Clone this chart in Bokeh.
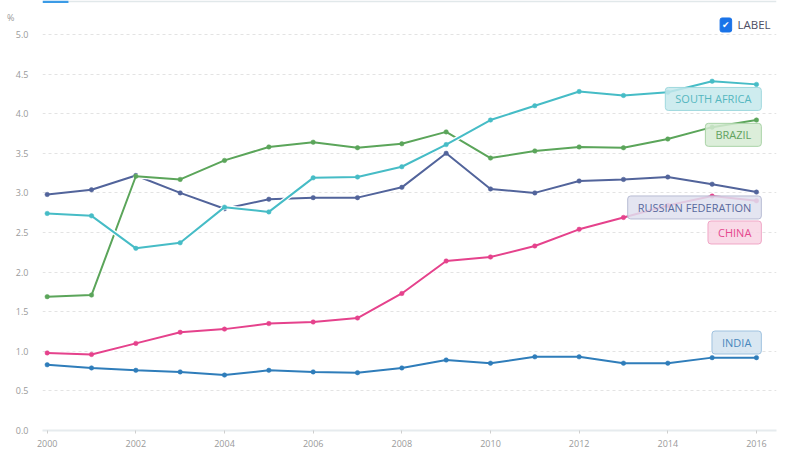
from bokeh.plotting import figure
from bokeh.models import Range1d, FixedTicker, PrintfTickFormatter, Label, BoxAnnotation
from bokeh.embed import file_html
from bokeh.resources import INLINE

years = list(range(2000, 2017))

india = [0.83, 0.79, 0.76, 0.74, 0.70, 0.76, 0.74, 0.73, 0.79, 0.89, 0.85, 0.93, 0.93, 0.85, 0.85, 0.92, 0.92]
china = [0.98, 0.96, 1.10, 1.24, 1.28, 1.35, 1.37, 1.42, 1.73, 2.14, 2.19, 2.33, 2.54, 2.69, 2.84, 2.96, 2.90]
russia = [2.98, 3.04, 3.22, 3.00, 2.80, 2.92, 2.94, 2.94, 3.07, 3.50, 3.05, 3.00, 3.15, 3.17, 3.20, 3.11, 3.01]
brazil = [1.69, 1.71, 3.21, 3.17, 3.41, 3.58, 3.64, 3.57, 3.62, 3.77, 3.44, 3.53, 3.58, 3.57, 3.68, 3.83, 3.92]
south_africa = [2.74, 2.71, 2.30, 2.37, 2.82, 2.76, 3.19, 3.20, 3.33, 3.61, 3.92, 4.10, 4.28, 4.23, 4.27, 4.41, 4.37]

series_names = ["INDIA", "CHINA", "RUSSIAN FEDERATION", "BRAZIL", "SOUTH AFRICA"]
series_values = [india, china, russia, brazil, south_africa]
series_colors = ["#2f7dba", "#e5428c", "#52649b", "#5ba55a", "#46bcc6"]
label_fills = ["#d2e3f0", "#f8d3e3", "#dfe1ee", "#d6ebd4", "#c5e9ec"]
label_borders = ["#9fc2df", "#f0a6c6", "#b7bcd4", "#a9d3a6", "#9fd8de"]
label_text_colors = ["#4a88bd", "#e5498f", "#5a6a9e", "#62a260", "#55b7bf"]
label_y = [1.111, 2.50, 2.816, 3.733, 4.186]

y_ticks = [0.0, 0.5, 1.0, 1.5, 2.0, 2.5, 3.0, 3.5, 4.0, 4.5, 5.0]
x_ticks = [2000, 2002, 2004, 2006, 2008, 2010, 2012, 2014, 2016]
unit_label = "%"
unit_y = 5.21

FONT = "Open Sans"
Y_TOP = 5.429

p = figure(width=778, height=467, output_backend="svg", toolbar_location=None,
           x_range=Range1d(1999.894, 2016.452), y_range=Range1d(0, Y_TOP),
           min_border_left=42, min_border_right=2, min_border_top=0, min_border_bottom=37)
p.outline_line_color = None
p.background_fill_color = "white"
p.border_fill_color = "white"

# top tab strip (decoration)
p.add_layout(BoxAnnotation(bottom=Y_TOP - 0.022, top=Y_TOP, left=2000.48,
                           fill_color="#e1e8ea", fill_alpha=1, line_color=None))
p.add_layout(BoxAnnotation(bottom=Y_TOP - 0.03, top=Y_TOP, right=2000.48,
                           fill_color="#3b9be6", fill_alpha=1, line_color=None))

# grid
p.xgrid.grid_line_color = None
p.ygrid.ticker = FixedTicker(ticks=y_ticks[1:])
p.ygrid.grid_line_color = "#e3e3e3"
p.ygrid.grid_line_dash = "3 3"
p.ygrid.grid_line_width = 1

# axes
p.yaxis.ticker = FixedTicker(ticks=y_ticks + [unit_y])
p.yaxis.formatter = PrintfTickFormatter(format="%.1f")
p.yaxis.major_label_overrides = {unit_y: unit_label + "\u00a0" * 6}
p.yaxis.axis_line_color = None
p.yaxis.major_tick_line_color = None
p.yaxis.minor_tick_line_color = None
p.yaxis.major_label_text_color = "#9a9a9a"
p.yaxis.major_label_text_font = FONT
p.yaxis.major_label_text_font_size = "9px"
p.yaxis.major_label_standoff = 8

p.xaxis.ticker = FixedTicker(ticks=x_ticks)
p.xaxis.axis_line_color = "#e6ebee"
p.xaxis.axis_line_width = 2
p.xaxis.major_tick_line_color = "#cfcfcf"
p.xaxis.major_tick_out = 3
p.xaxis.major_tick_in = 0
p.xaxis.minor_tick_line_color = None
p.xaxis.major_label_text_color = "#9a9a9a"
p.xaxis.major_label_text_font = FONT
p.xaxis.major_label_text_font_size = "9px"
p.xaxis.major_label_standoff = 6

for name, vals, col in zip(series_names, series_values, series_colors):
    p.line(years, vals, line_color="white", line_width=4.5)
    p.line(years, vals, line_color=col, line_width=2)
    p.scatter(years, vals, size=4.5, fill_color=col, line_color=col, line_width=0.5)

for name, ly, fc, bc, tc in zip(series_names, label_y, label_fills, label_borders, label_text_colors):
    p.add_layout(Label(x=2016.11, y=ly, text=name, text_align="right", text_baseline="middle",
                       text_color=tc, text_font=FONT, text_font_size="11px",
                       background_fill_color=fc, background_fill_alpha=0.85,
                       border_line_color=bc, border_line_width=1,
                       padding=(10, 4), border_radius=3))

# checkbox + LABEL
p.add_layout(Label(x=2015.31, y=5.12, text="\u2714", text_align="center", text_baseline="middle",
                   text_color="white", text_font="DejaVu Sans", text_font_size="9px",
                   background_fill_color="#1a73e8", border_line_color="#1a73e8",
                   padding=2, border_radius=2))
p.add_layout(Label(x=2015.572, y=5.12, text="LABEL", text_align="left", text_baseline="middle",
                   text_color="#4d4d63", text_font=FONT, text_font_size="11.5px"))

open("out.html", "w").write(file_html(p, INLINE))
